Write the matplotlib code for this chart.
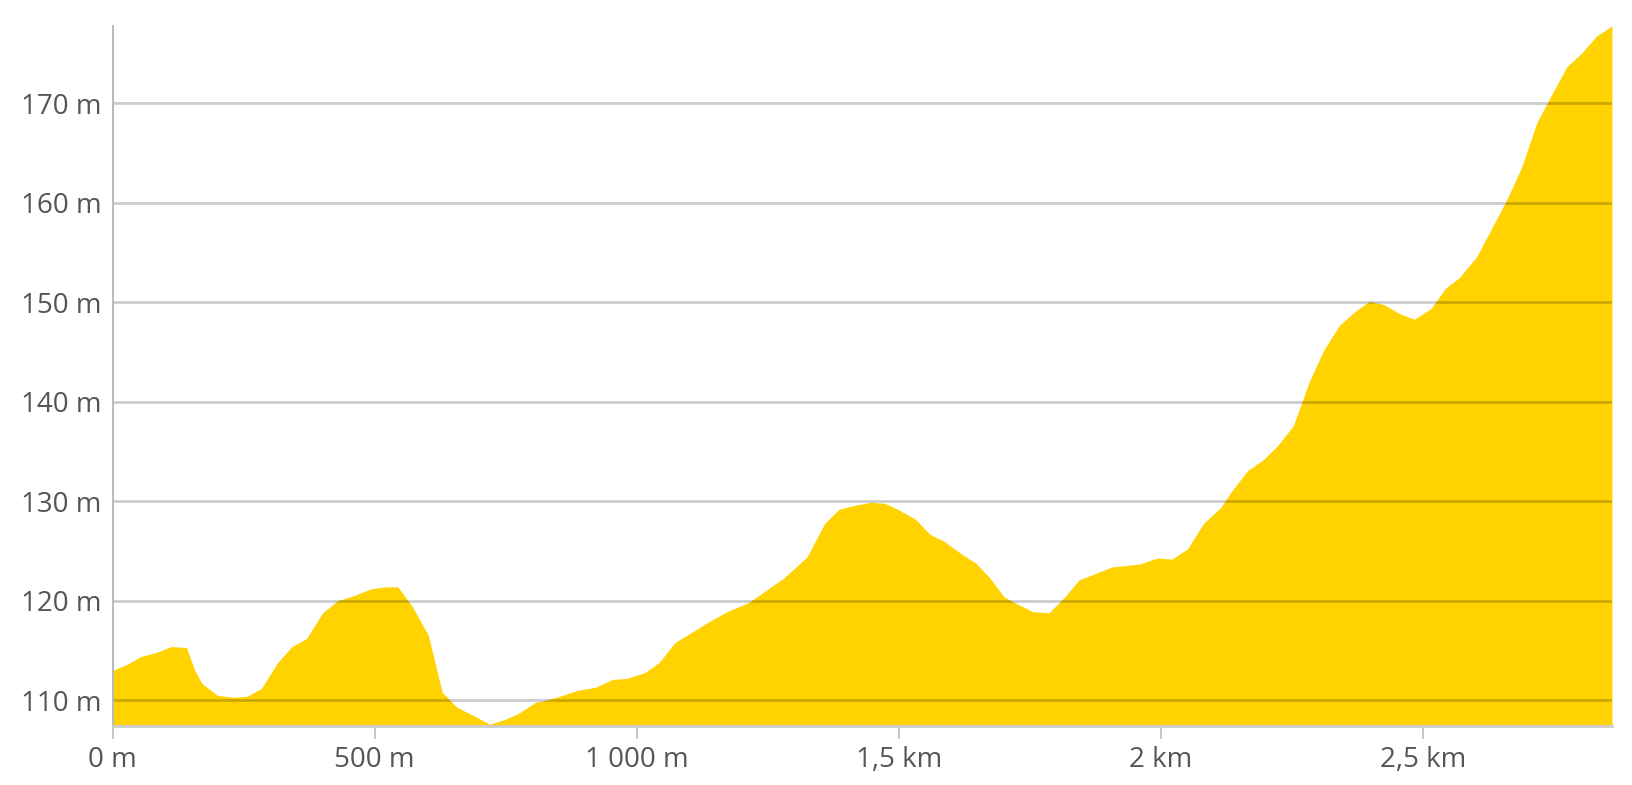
import matplotlib
matplotlib.use("Agg")
import matplotlib.pyplot as plt

# Elevation profile (distance in m, elevation in m)
distance = [0, 27, 54, 83, 112, 141, 156, 170, 200, 230, 257, 284, 315, 342, 370,
            401, 429, 459, 493, 520, 544, 571, 602, 629, 657, 691, 719, 745, 772,
            807, 819, 853, 887, 921, 954, 982, 1016, 1043, 1073, 1104, 1138, 1172,
            1213, 1240, 1281, 1325, 1342, 1359, 1386, 1416, 1447, 1474, 1498, 1532,
            1559, 1586, 1620, 1647, 1674, 1701, 1722, 1756, 1787, 1817, 1844, 1907,
            1960, 1994, 2021, 2051, 2082, 2115, 2135, 2166, 2196, 2223, 2253, 2284,
            2311, 2341, 2371, 2398, 2425, 2455, 2484, 2516, 2543, 2570, 2603, 2630,
            2661, 2688, 2718, 2745, 2775, 2802, 2832, 2861]
elevation = [113.0, 113.6, 114.4, 114.8, 115.4, 115.3, 113.1, 111.7, 110.5, 110.3,
             110.4, 111.2, 113.8, 115.4, 116.2, 118.8, 120.0, 120.5, 121.2, 121.4,
             121.4, 119.5, 116.6, 110.8, 109.3, 108.4, 107.6, 108.0, 108.6, 109.8,
             109.9, 110.4, 111.0, 111.3, 112.1, 112.2, 112.8, 113.8, 115.8, 116.8,
             117.9, 118.9, 119.8, 120.8, 122.3, 124.4, 126.1, 127.8, 129.2, 129.6,
             129.9, 129.8, 129.2, 128.2, 126.7, 126.0, 124.7, 123.8, 122.3, 120.4,
             119.8, 118.9, 118.8, 120.4, 122.1, 123.4, 123.7, 124.3, 124.2, 125.2,
             127.8, 129.4, 131.0, 133.1, 134.2, 135.6, 137.6, 142.1, 145.2, 147.7,
             149.1, 150.1, 149.8, 148.9, 148.3, 149.4, 151.4, 152.5, 154.6, 157.3,
             160.4, 163.5, 168.1, 170.8, 173.7, 175.0, 176.8, 177.8]

x_ticks = [0, 500, 1000, 1500, 2000, 2500]
x_tick_labels = ["0 m", "500 m", "1 000 m", "1,5 km", "2 km", "2,5 km"]
y_ticks = [110, 120, 130, 140, 150, 160, 170]
y_tick_labels = [f"{v} m" for v in y_ticks]

plt.rcParams["font.family"] = ["Open Sans", "DejaVu Sans"]

fig = plt.figure(figsize=(16.32, 7.85), dpi=100)
ax = fig.add_axes([0.069, 0.075, 0.9187, 0.892])

y_bottom = 107.4
ax.fill_between(distance, elevation, y_bottom, color="#FFD200", linewidth=0, zorder=1)

ax.set_xlim(0, distance[-1])
ax.set_ylim(y_bottom, max(elevation))

# grid drawn above the fill, semi transparent so it darkens the yellow
for v in y_ticks:
    ax.axhline(v, color="black", alpha=0.2, linewidth=2, zorder=3)

ax.set_xticks(x_ticks)
ax.set_xticklabels(x_tick_labels)
ax.set_yticks(y_ticks)
ax.set_yticklabels(y_tick_labels)

ax.tick_params(axis="x", direction="out", length=9.5, width=1.2, color="#bbbbbb",
               labelsize=20, labelcolor="#555555", pad=5)
ax.tick_params(axis="y", length=0, labelsize=20, labelcolor="#555555", pad=8)

for side in ["top", "right"]:
    ax.spines[side].set_visible(False)
ax.spines["left"].set_color("#bbbbbb")
ax.spines["left"].set_linewidth(1.5)
ax.spines["bottom"].set_color("#cccccc")
ax.spines["bottom"].set_linewidth(2)
ax.spines["left"].set_zorder(4)
ax.spines["bottom"].set_zorder(4)

fig.savefig("out.png", dpi=100)
